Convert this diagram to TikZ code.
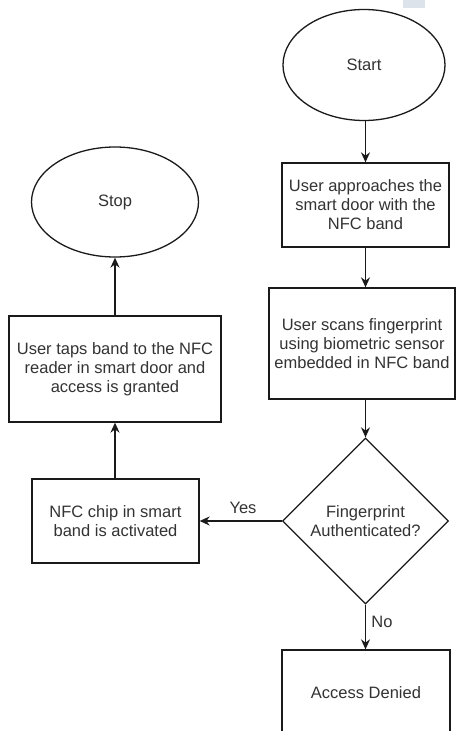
\documentclass[tikz,border=0pt]{standalone}
\usepackage{fontspec}
\setmainfont{Liberation Sans}
\usetikzlibrary{shapes.geometric,arrows.meta}
\definecolor{txt}{HTML}{333333}
\definecolor{edge}{HTML}{1A1A1A}
\definecolor{tab}{HTML}{DDE3EA}
\begin{document}
\begin{tikzpicture}[x=1pt,y=-1pt,
  every node/.style={text=txt,font=\fontsize{16.5}{19}\selectfont},
  shp/.style={draw=edge,line width=1.3pt,fill=white,inner sep=0pt,align=center},
  term/.style={shp,ellipse},
  proc/.style={shp,rectangle},
  dec/.style={shp,diamond},
  flow/.style={draw=edge,line width=1.4pt,-{Stealth[length=10pt,width=9pt]}},
  lbl/.style={inner sep=0pt}]
\useasboundingbox (0,0) rectangle (456,731);
\clip (0,0) rectangle (456,731);
\fill[tab] (403,0) rectangle (425,8);
\node[term,minimum width=162pt,minimum height=111pt] (start) at (364,65) {Start};
\node[proc,minimum width=167pt,minimum height=84pt] (approach) at (365.5,205) {User approaches the\\smart door with the\\NFC band};
\node[proc,minimum width=186pt,minimum height=111pt] (scan) at (362,343.5) {User scans fingerprint\\using biometric sensor\\embedded in NFC band};
\node[dec,minimum width=166pt,minimum height=166pt] (auth) at (365.5,521) {Fingerprint\\Authenticated?};
\node[proc,minimum width=168pt,minimum height=86pt] (denied) at (366,693) {Access Denied};
\node[proc,minimum width=167pt,minimum height=84pt] (nfc) at (115.5,521) {NFC chip in smart\\band is activated};
\node[proc,minimum width=212pt,minimum height=106pt] (tap) at (115,369) {User taps band to the NFC\\reader in smart door and\\access is granted};
\node[term,minimum width=167pt,minimum height=110pt] (stop) at (115,202) {Stop};
\draw[flow] (start.south -| approach.north) -- (approach.north);
\draw[flow] (approach.south) -- (scan.north -| approach.south);
\draw[flow] (scan.south -| auth.north) -- (auth.north);
\draw[flow] (auth.west) -- (nfc.east);
\draw[flow] (auth.south) -- (denied.north -| auth.south);
\draw[flow] (nfc.north -| tap.south) -- (tap.south);
\draw[flow] (tap.north) -- (stop.south);
\node[lbl] (yes) at (243,508) {Yes};
\node[lbl] (no) at (382,622) {No};
\end{tikzpicture}
\end{document}
